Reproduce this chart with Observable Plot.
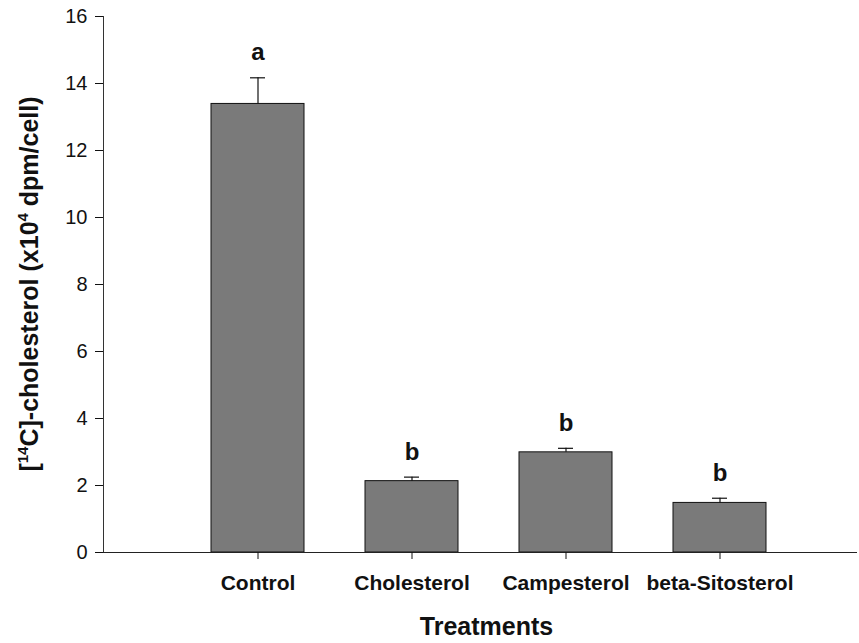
<!DOCTYPE html>
<html>
<head>
<meta charset="utf-8">
<script src="https://cdn.jsdelivr.net/npm/d3@7"></script>
<script src="https://cdn.jsdelivr.net/npm/@observablehq/plot@0.6"></script>
<style>
  html, body { margin: 0; padding: 0; background: #fff; }
  #chart svg { display: block; }
</style>
</head>
<body>
<div id="chart"></div>
<script>
// Treatments and measured [14C]-cholesterol uptake (x10^4 dpm/cell)
const categories = ["Control", "Cholesterol", "Campesterol", "beta-Sitosterol"];
const means = [13.39, 2.13, 2.99, 1.48];
const upperErrors = [14.17, 2.25, 3.11, 1.62];
const groupLetters = ["a", "b", "b", "b"];
const yTicks = [0, 2, 4, 6, 8, 10, 12, 14, 16];

const rows = categories.map((c, i) => ({
  treatment: c,
  mean: means[i],
  upper: upperErrors[i],
  letter: groupLetters[i]
}));

const font = "'Liberation Sans', Arial, Helvetica, sans-serif";

const chart = Plot.plot({
  width: 859,
  height: 643,
  marginLeft: 103,
  marginRight: 2,
  marginTop: 16,
  marginBottom: 91,
  style: { fontFamily: font, background: "#fff", color: "#111" },
  x: {
    domain: categories,
    range: [180.5, 796.5],
    paddingInner: 0.396,
    paddingOuter: 0.198
  },
  y: { domain: [0, 16] },
  marks: [
    Plot.barY(rows, {
      x: "treatment",
      y: "mean",
      fill: "#7a7a7a",
      stroke: "#111",
      strokeWidth: 1
    }),
    Plot.ruleX(rows, { x: "treatment", y1: "mean", y2: "upper", stroke: "#111", strokeWidth: 1.2 }),
    Plot.tickY(rows, { x: "treatment", y: "upper", insetLeft: 39, insetRight: 39, stroke: "#111", strokeWidth: 1.2 }),
    // significance letters above each error bar
    Plot.text(rows, {
      x: "treatment",
      y: "upper",
      text: "letter",
      dy: -25,
      fontSize: 24,
      fontWeight: "bold",
      fill: "#111"
    }),
    Plot.frame({ anchor: "left", stroke: "#333" }),
    Plot.ruleY([0], { stroke: "#222", strokeWidth: 1.2 }),
    Plot.axisY({
      ticks: yTicks,
      tickSize: 8,
      tickPadding: 8,
      fontSize: 20,
      label: null,
      tickFormat: d => String(d)
    }),
    Plot.axisX({
      tickSize: 7,
      tickPadding: 16,
      fontSize: 21,
      fontWeight: "bold",
      label: null
    }),
    Plot.text(["Treatments"], {
      frameAnchor: "bottom",
      dy: 74,
      dx: 6,
      lineAnchor: "middle",
      fontSize: 25,
      fontWeight: "bold",
      fill: "#111"
    })
  ]
});

// Y-axis title with superscripts
const svg = d3.select(chart);
const ylab = svg.append("text")
  .attr("transform", "translate(38,284) rotate(-90)")
  .attr("text-anchor", "middle")
  .attr("font-family", font)
  .attr("font-size", 25)
  .attr("font-weight", "bold")
  .attr("fill", "#111");
ylab.append("tspan").text("[");
ylab.append("tspan").attr("dy", -10).attr("font-size", 15).text("14");
ylab.append("tspan").attr("dy", 10).text("C]-cholesterol (x10");
ylab.append("tspan").attr("dy", -10).attr("font-size", 15).text("4");
ylab.append("tspan").attr("dy", 10).text(" dpm/cell)");

document.getElementById("chart").appendChild(chart);
</script>
</body>
</html>
